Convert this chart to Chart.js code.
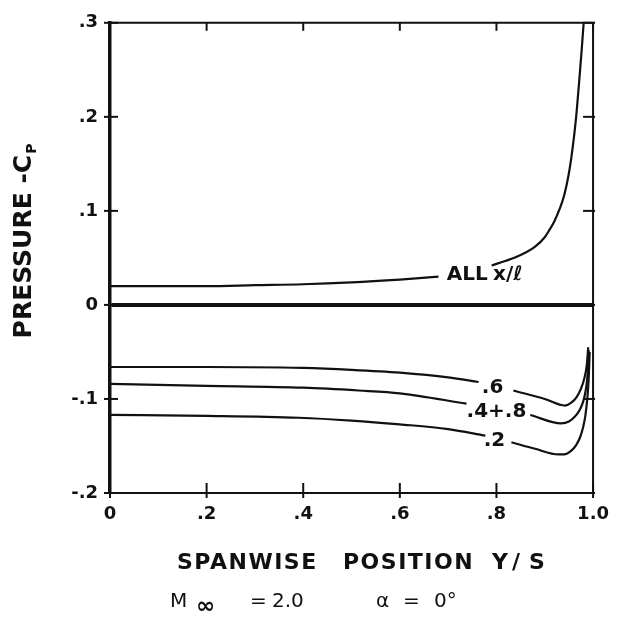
<!DOCTYPE html>
<html><head><meta charset="utf-8">
<script src="https://cdn.jsdelivr.net/npm/chart.js@4.4.1/dist/chart.umd.min.js"></script>
<style>html,body{margin:0;padding:0;background:#fff;}</style>
</head><body>
<canvas id="c" width="620" height="618"></canvas>
<script>
// ---- data ----
const spanAll = [0, 0.1, 0.2, 0.3, 0.4, 0.5, 0.6, 0.68, 0.735, 0.79, 0.82, 0.85, 0.88, 0.90, 0.91, 0.92, 0.93, 0.94, 0.95, 0.958, 0.965, 0.971, 0.976, 0.980, 0.983];
const cpAll   = [0.020, 0.020, 0.020, 0.021, 0.022, 0.024, 0.027, 0.030, null, 0.042, 0.047, 0.053, 0.062, 0.072, 0.080, 0.089, 0.101, 0.116, 0.140, 0.168, 0.200, 0.236, 0.268, 0.296, 0.318];

const span06 = [0, 0.2, 0.4, 0.5, 0.6, 0.7, 0.763, 0.8, 0.835, 0.9, 0.942, 0.955, 0.966, 0.975, 0.982, 0.987, 0.990];
const cp06   = [-0.066, -0.066, -0.067, -0.069, -0.072, -0.077, -0.082, null, -0.091, -0.100, -0.107, -0.104, -0.098, -0.089, -0.078, -0.064, -0.045];

const span0408 = [0, 0.2, 0.4, 0.515, 0.6, 0.738, 0.8, 0.870, 0.934, 0.950, 0.962, 0.972, 0.980, 0.985, 0.989, 0.991];
const cp0408   = [-0.084, -0.086, -0.088, -0.091, -0.094, -0.105, null, -0.117, -0.126, -0.124, -0.119, -0.112, -0.102, -0.090, -0.072, -0.048];

const span02 = [0, 0.2, 0.39, 0.5, 0.6, 0.7, 0.777, 0.805, 0.831, 0.88, 0.928, 0.94, 0.955, 0.965, 0.973, 0.979, 0.984, 0.988, 0.991, 0.993];
const cp02   = [-0.117, -0.118, -0.120, -0.123, -0.127, -0.132, -0.139, null, -0.146, -0.153, -0.159, -0.159, -0.155, -0.149, -0.141, -0.131, -0.118, -0.100, -0.078, -0.050];

const xTickValues = [0, 0.2, 0.4, 0.6, 0.8, 1.0];
const xTickLabels = ['0', '.2', '.4', '.6', '.8', '1.0'];
const yTickValues = [-0.2, -0.1, 0, 0.1, 0.2, 0.3];
const yTickLabels = ['-.2', '-.1', '0', '.1', '.2', '.3'];

const curveLabels = [
  {text: 'ALL', x: 0.697, y: 0.0325, align: 'left'},
  {text: 'x/ℓ', x: 0.793, y: 0.0325, align: 'left'},
  {text: '.6', x: 0.792, y: -0.0879, align: 'center'},
  {text: '.4+.8', x: 0.800, y: -0.114, align: 'center'},
  {text: '.2', x: 0.796, y: -0.1444, align: 'center'}
];

const toPts = (xs, ys) => xs.map((x, i) => ({x: x, y: ys[i]}));
const INK = '#111';
const FONT = '"DejaVu Sans"';

const decor = {
  id: 'decor',
  afterDraw(chart) {
    const {ctx, chartArea: a, scales: {x, y}} = chart;
    ctx.save();
    ctx.strokeStyle = INK; ctx.fillStyle = INK; ctx.lineCap = 'butt';
    // top and right frame
    ctx.lineWidth = 2;
    ctx.beginPath();
    ctx.moveTo(a.left, a.top); ctx.lineTo(a.right, a.top); ctx.lineTo(a.right, a.bottom);
    ctx.stroke();
    // tick marks
    yTickValues.forEach(v => {
      const py = y.getPixelForValue(v);
      ctx.beginPath(); ctx.moveTo(a.left - 6, py); ctx.lineTo(a.left + 8, py); ctx.stroke();
      ctx.beginPath(); ctx.moveTo(a.right - 10, py); ctx.lineTo(a.right + 2, py); ctx.stroke();
    });
    xTickValues.forEach(v => {
      const px = x.getPixelForValue(v);
      ctx.beginPath(); ctx.moveTo(px, a.bottom - 10); ctx.lineTo(px, a.bottom + 5); ctx.stroke();
      ctx.beginPath(); ctx.moveTo(px, a.top); ctx.lineTo(px, a.top + 8); ctx.stroke();
    });
    // curve labels
    ctx.font = 'bold 20px ' + FONT;
    ctx.textBaseline = 'middle';
    curveLabels.forEach(l => {
      ctx.textAlign = l.align;
      ctx.fillText(l.text, x.getPixelForValue(l.x), y.getPixelForValue(l.y));
    });
    // x-axis title
    ctx.textAlign = 'left';
    ctx.textBaseline = 'alphabetic';
    ctx.font = 'bold 22px ' + FONT;
    try { ctx.letterSpacing = '1.5px'; } catch (e) {}
    ctx.fillText('SPANWISE', 177, 569);
    ctx.fillText('POSITION', 343, 569);
    try { ctx.letterSpacing = '0px'; } catch (e) {}
    ctx.fillText('Y', 492, 569);
    ctx.fillText('/', 512, 569);
    ctx.fillText('S', 529, 569);
    // y-axis title with subscript
    ctx.save();
    ctx.translate(22, 241);
    ctx.rotate(-Math.PI / 2);
    const main = 'PRESSURE -C', sub = 'P';
    ctx.font = 'bold 25px ' + FONT;
    const w1 = ctx.measureText(main).width;
    ctx.font = 'bold 14px ' + FONT;
    const w2 = ctx.measureText(sub).width;
    const x0 = -(w1 + w2 + 1) / 2;
    ctx.font = 'bold 25px ' + FONT;
    ctx.fillText(main, x0, 9);
    ctx.font = 'bold 14px ' + FONT;
    ctx.fillText(sub, x0 + w1 + 1, 14);
    ctx.restore();
    // conditions line
    ctx.font = '20px ' + FONT;
    ctx.fillText('M', 170, 607);
    ctx.fillText('=', 250, 607);
    ctx.fillText('2.0', 272, 607);
    ctx.fillText('α', 376, 607);
    ctx.fillText('=', 403, 607);
    ctx.fillText('0°', 434, 607);
    ctx.font = 'bold 23px ' + FONT;
    ctx.fillText('∞', 196, 613);
    ctx.restore();
  }
};

const ds = (xs, ys) => ({
  data: toPts(xs, ys),
  borderColor: INK, borderWidth: 2.2, pointRadius: 0,
  cubicInterpolationMode: 'monotone', spanGaps: false, fill: false
});

new Chart(document.getElementById('c'), {
  type: 'line',
  data: { datasets: [ds(spanAll, cpAll), ds(span06, cp06), ds(span0408, cp0408), ds(span02, cp02)] },
  options: {
    responsive: false, animation: false, devicePixelRatio: 1,
    layout: { padding: {top: 15, right: 25, bottom: 0, left: 0} },
    plugins: { legend: {display: false}, tooltip: {enabled: false} },
    scales: {
      x: {
        type: 'linear', min: 0, max: 1,
        afterBuildTicks: s => { s.ticks = xTickValues.map(v => ({value: v})); },
        afterFit: s => { s.height = 125; },
        ticks: { color: INK, font: {family: 'DejaVu Sans', size: 18, weight: 'bold'}, padding: 11, maxRotation: 0,
                 callback: (v, i) => xTickLabels[i] },
        grid: { display: false, drawTicks: false },
        border: { display: true, color: INK, width: 2 }
      },
      y: {
        type: 'linear', min: -0.2, max: 0.3,
        afterBuildTicks: s => { s.ticks = yTickValues.map(v => ({value: v})); },
        afterFit: s => { s.width = 110; },
        ticks: { color: INK, font: {family: 'DejaVu Sans', size: 18, weight: 'bold'}, padding: 12,
                 callback: (v, i) => yTickLabels[i] },
        grid: { drawTicks: false, drawOnChartArea: true,
                color: c => (c.tick && Math.abs(c.tick.value) < 1e-9) ? INK : 'rgba(0,0,0,0)',
                lineWidth: c => (c.tick && Math.abs(c.tick.value) < 1e-9) ? 4 : 0 },
        border: { display: true, color: INK, width: 3.5 }
      }
    }
  },
  plugins: [decor]
});
</script>
</body></html>
